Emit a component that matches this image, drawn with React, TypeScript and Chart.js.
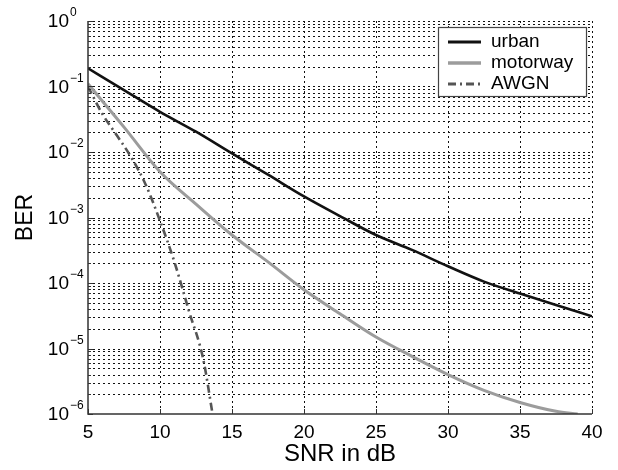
import { useEffect, useRef } from 'react';
import { Chart, registerables } from 'chart.js';

Chart.register(...registerables);

const FONT = '"Liberation Sans", Arial, Helvetica, sans-serif';

// ---- data ----
const urbanSnr = [5, 7.5, 10, 12.5, 15, 17.5, 20, 22.5, 25, 27.5, 30, 32.5, 35, 37.5, 40];
const urbanBer = [0.19, 0.088, 0.041, 0.0204, 0.0095, 0.0045, 0.0021, 0.00105, 0.00054, 0.00032, 0.00018, 0.000105, 0.000069, 0.000046, 0.000031];

const motorwaySnr = [5, 7.5, 10, 12.5, 15, 17.5, 20, 22.5, 25, 27.5, 30, 32.5, 35, 37.5, 39];
const motorwayBer = [0.11, 0.024, 0.005, 0.0016, 0.00054, 0.00021, 0.000079, 0.000034, 0.000015, 0.0000076, 0.000004, 0.0000023, 0.0000015, 0.0000011, 0.000001];

const awgnSnr = [5, 6, 7, 8, 9, 10, 11, 12, 13, 13.65];
const awgnBer = [0.1, 0.038, 0.018, 0.0083, 0.0032, 0.00089, 0.00021, 0.000038, 0.0000069, 0.000001];

const xTickValues = [5, 10, 15, 20, 25, 30, 35, 40];
const yDecadeExponents = [0, -1, -2, -3, -4, -5, -6];
const seriesLabels = ['urban', 'motorway', 'AWGN'];
const xTitle = 'SNR in dB';
const yTitle = 'BER';

const toPoints = (xs: number[], ys: number[]) => xs.map((x, i) => ({ x, y: ys[i] }));

const seriesStyles = [
  { color: '#111111', width: 2.6, dash: [] as number[] },
  { color: '#9c9c9c', width: 3, dash: [] as number[] },
  { color: '#555555', width: 2.6, dash: [8, 4, 2, 4] },
];

const matlabPlugin = {
  id: 'matlabLook',
  beforeDatasetsDraw(chart: any) {
    const { ctx, chartArea } = chart;
    const { left, right, top, bottom } = chartArea;
    const xs = chart.scales.x;
    const ys = chart.scales.y;
    ctx.save();
    ctx.strokeStyle = '#111';
    ctx.lineWidth = 1;
    ctx.setLineDash([2, 3]);
    // vertical grid
    xTickValues.forEach((v) => {
      if (v === xTickValues[0]) return;
      const x = Math.round(xs.getPixelForValue(v)) + 0.5;
      ctx.beginPath();
      ctx.moveTo(x, top);
      ctx.lineTo(x, bottom);
      ctx.stroke();
    });
    // horizontal grid (major + minor)
    for (let e = -6; e <= 0; e++) {
      for (let k = 1; k <= 9; k++) {
        const v = k * Math.pow(10, e);
        if (v > 1.0000001) break;
        if (e === -6 && k === 1) continue;
        const y = Math.round(ys.getPixelForValue(v)) + 0.5;
        ctx.beginPath();
        ctx.moveTo(left, y);
        ctx.lineTo(right, y);
        ctx.stroke();
      }
    }
    ctx.restore();
  },
  afterDatasetsDraw(chart: any) {
    const { ctx, chartArea } = chart;
    const { left, right, top, bottom } = chartArea;
    const xs = chart.scales.x;
    const ys = chart.scales.y;
    ctx.save();
    ctx.setLineDash([]);
    ctx.strokeStyle = '#333';
    ctx.lineWidth = 1.5;
    ctx.beginPath();
    ctx.moveTo(left, top);
    ctx.lineTo(left, bottom);
    ctx.lineTo(right, bottom);
    ctx.stroke();
    ctx.lineWidth = 1;
    // inward ticks
    xTickValues.forEach((v) => {
      const x = Math.round(xs.getPixelForValue(v)) + 0.5;
      ctx.beginPath();
      ctx.moveTo(x, bottom);
      ctx.lineTo(x, bottom - 5);
      ctx.stroke();
    });
    for (let e = -6; e <= 0; e++) {
      for (let k = 1; k <= 9; k++) {
        const v = k * Math.pow(10, e);
        if (v > 1.0000001) break;
        const y = Math.round(ys.getPixelForValue(v)) + 0.5;
        ctx.beginPath();
        ctx.moveTo(left, y);
        ctx.lineTo(left + (k === 1 ? 5 : 3), y);
        ctx.stroke();
      }
    }
    // legend
    const bx = 438, by = 27, bw = 148, bh = 69;
    ctx.fillStyle = '#fff';
    ctx.fillRect(bx, by, bw, bh);
    ctx.strokeStyle = '#444';
    ctx.lineWidth = 1.2;
    ctx.strokeRect(bx + 0.5, by + 0.5, bw, bh);
    seriesLabels.forEach((label, i) => {
      const st = seriesStyles[i];
      const y = by + 15 + i * 21;
      ctx.save();
      ctx.strokeStyle = st.color;
      ctx.lineWidth = st.width + 0.4;
      ctx.setLineDash(st.dash);
      ctx.beginPath();
      ctx.moveTo(448, y);
      ctx.lineTo(481, y);
      ctx.stroke();
      ctx.restore();
      ctx.fillStyle = '#000';
      ctx.font = `19px ${FONT}`;
      ctx.textAlign = 'left';
      ctx.textBaseline = 'middle';
      ctx.fillText(label, 491, y);
    });
    ctx.restore();
  },
  afterDraw(chart: any) {
    const { ctx } = chart;
    const ys = chart.scales.y;
    ctx.save();
    ctx.fillStyle = '#000';
    yDecadeExponents.forEach((e) => {
      const y = ys.getPixelForValue(Math.pow(10, e));
      ctx.font = `19px ${FONT}`;
      ctx.textAlign = 'right';
      ctx.textBaseline = 'middle';
      ctx.fillText('10', 69, y + 1);
      ctx.font = `12px ${FONT}`;
      ctx.textAlign = 'left';
      ctx.fillText(e === 0 ? '0' : `\u2212${-e}`, 70, y - 8);
    });
    ctx.restore();
  },
};

export default function App() {
  const canvasRef = useRef<HTMLCanvasElement | null>(null);

  useEffect(() => {
    if (!canvasRef.current) return;
    Chart.defaults.font.family = FONT;
    const chart = new Chart(canvasRef.current, {
      type: 'line',
      data: {
        datasets: [
          { label: seriesLabels[0], data: toPoints(urbanSnr, urbanBer) },
          { label: seriesLabels[1], data: toPoints(motorwaySnr, motorwayBer) },
          { label: seriesLabels[2], data: toPoints(awgnSnr, awgnBer) },
        ].map((d, i) => ({
          ...d,
          borderColor: seriesStyles[i].color,
          borderWidth: seriesStyles[i].width,
          borderDash: seriesStyles[i].dash,
          pointRadius: 0,
          fill: false,
          cubicInterpolationMode: 'monotone' as const,
        })),
      },
      options: {
        animation: false,
        responsive: true,
        maintainAspectRatio: false,
        devicePixelRatio: 1,
        layout: { padding: { left: 0, top: 21, right: 26, bottom: 0 } },
        plugins: { legend: { display: false }, tooltip: { enabled: false } },
        scales: {
          x: {
            type: 'linear',
            min: 5,
            max: 40,
            grid: { display: false, drawTicks: false },
            border: { display: false },
            ticks: {
              stepSize: 5,
              autoSkip: false,
              maxRotation: 0,
              padding: 7,
              color: '#000',
              font: { size: 19, family: FONT },
            },
            title: {
              display: true,
              text: xTitle,
              color: '#000',
              font: { size: 24, family: FONT },
              padding: { top: 0, bottom: 1 },
            },
            afterFit: (s: any) => {
              s.height = 56;
            },
          },
          y: {
            type: 'logarithmic',
            min: 1e-6,
            max: 1,
            grid: { display: false, drawTicks: false },
            border: { display: false },
            ticks: { display: false },
            title: {
              display: true,
              text: yTitle,
              color: '#000',
              font: { size: 23, family: FONT },
              padding: { top: 12, bottom: 0 },
            },
            afterFit: (s: any) => {
              s.width = 88;
            },
          },
        },
      },
      plugins: [matlabPlugin],
    });
    return () => chart.destroy();
  }, []);

  return (
    <div style={{ position: 'fixed', left: 0, top: 0, width: 618, height: 470, background: '#fff' }}>
      <canvas ref={canvasRef} />
    </div>
  );
}
